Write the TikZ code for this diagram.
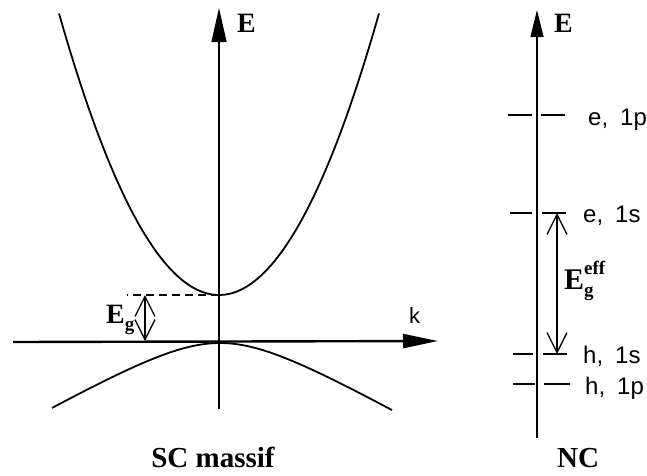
\documentclass[tikz,border=0pt]{standalone}
\usepackage{fontspec}
\setmainfont{Liberation Serif}
\newfontfamily\labfont{Liberation Sans}
\usetikzlibrary{arrows.meta}
\tikzset{
  axisline/.style={line width=1.3pt},
  kaxis/.style={line width=2.4pt},
  curve/.style={line width=1.8pt},
  levelbar/.style={line width=2.2pt},
  gaparrow/.style={line width=1.3pt,{Straight Barb[length=20pt,width=20pt]}-{Straight Barb[length=20pt,width=20pt]}},
  boldlab/.style={inner sep=0pt,font=\fontsize{28}{30}\selectfont\bfseries},
  sanslab/.style={inner sep=0pt,font=\fontsize{24}{26}\selectfont\labfont},
}
\newcommand\levtext[2]{#1,\hspace{12pt}#2}
\newcommand\smallbf{\fontsize{19}{19}\selectfont\bfseries}
\begin{document}
\begin{tikzpicture}[x=1pt,y=-1pt]
\useasboundingbox (0,0) rectangle (647,475);
% ---- left: bulk semiconductor ----
\coordinate (Lbot) at (219,409);
\coordinate (Ltop) at (219,8);
\coordinate (Kleft) at (13,342);
\coordinate (Kright) at (438,341);
\draw[axisline,-{Triangle[length=34pt,width=15pt]}] (Lbot) -- (Ltop);
\draw[kaxis,-{Triangle[length=35pt,width=14pt]}] (Kleft) -- (Kright);
\node[boldlab,anchor=base west] (Elab) at (237,32) {E};
\node[inner sep=0pt,anchor=base west,font=\fontsize{22}{24}\selectfont\labfont] (klab) at (409,323) {k};
% conduction band
\draw[curve] plot[domain=-16:16,samples=90] ({219+10*\x},{295-1.1*\x*\x});
% valence band
\draw[curve] plot[domain=-16.8:17.2,samples=90] ({220+10*\x},{343+10*sqrt(14.98+0.3276*\x*\x)-38.7});
% gap
\coordinate (cbmin) at (219,295);
\coordinate (dashend) at (127,295);
\draw[line width=1.2pt,dash pattern=on 8pt off 5pt] (cbmin) -- (dashend);
\coordinate (egtop) at (145,295);
\coordinate (egbot) at (145,341);
\draw[gaparrow] (egtop) -- (egbot);
\node[boldlab,anchor=base west] (Eg) at (106,323) {E\raisebox{-7pt}{\smallbf g}};
\node[inner sep=0pt,anchor=base,font=\fontsize{29}{31}\selectfont\bfseries] (SC) at (213,467) {SC massif};
% ---- right: nanocrystal ----
\coordinate (Rbot) at (537,438);
\coordinate (Rtop) at (537,10);
\draw[axisline,-{Triangle[length=27pt,width=13pt]}] (Rbot) -- (Rtop);
\node[boldlab,anchor=base west] (Elab2) at (554,32) {E};
% levels
\coordinate (a1) at (508,115); \coordinate (a2) at (532,115);
\coordinate (a3) at (541,115); \coordinate (a4) at (565,115);
\draw[levelbar] (a1) -- (a2) (a3) -- (a4);
\node[sanslab,anchor=base west] (e1p) at (588,125) {\levtext{e}{1p}};
\coordinate (b1) at (510,213); \coordinate (b2) at (532,213);
\coordinate (b3) at (542,213); \coordinate (b4) at (566,213);
\draw[levelbar] (b1) -- (b2) (b3) -- (b4);
\node[sanslab,anchor=base west] (e1s) at (583,222) {\levtext{e}{1s}};
\coordinate (c1) at (513,354); \coordinate (c2) at (533,354);
\coordinate (c3) at (543,354); \coordinate (c4) at (567,354);
\draw[levelbar] (c1) -- (c2) (c3) -- (c4);
\node[sanslab,anchor=base west] (h1s) at (583,363) {\levtext{h}{1s}};
\coordinate (d1) at (513,384); \coordinate (d2) at (535,384);
\coordinate (d3) at (544,384); \coordinate (d4) at (570,384);
\draw[levelbar] (d1) -- (d2) (d3) -- (d4);
\node[sanslab,anchor=base west] (h1p) at (585,394) {\levtext{h}{1p}};
% effective gap
\coordinate (efftop) at (557,213);
\coordinate (effbot) at (557,354);
\draw[gaparrow] (efftop) -- (effbot);
\node[inner sep=0pt,anchor=base west,font=\fontsize{30}{32}\selectfont\bfseries] (Eeff) at (564,289) {E\rlap{\raisebox{-7pt}{\smallbf g}}\raisebox{15pt}{\smallbf eff}};
\node[inner sep=0pt,anchor=base west,font=\fontsize{29}{31}\selectfont\bfseries] (NC) at (557,467) {NC};
\end{tikzpicture}
\end{document}
